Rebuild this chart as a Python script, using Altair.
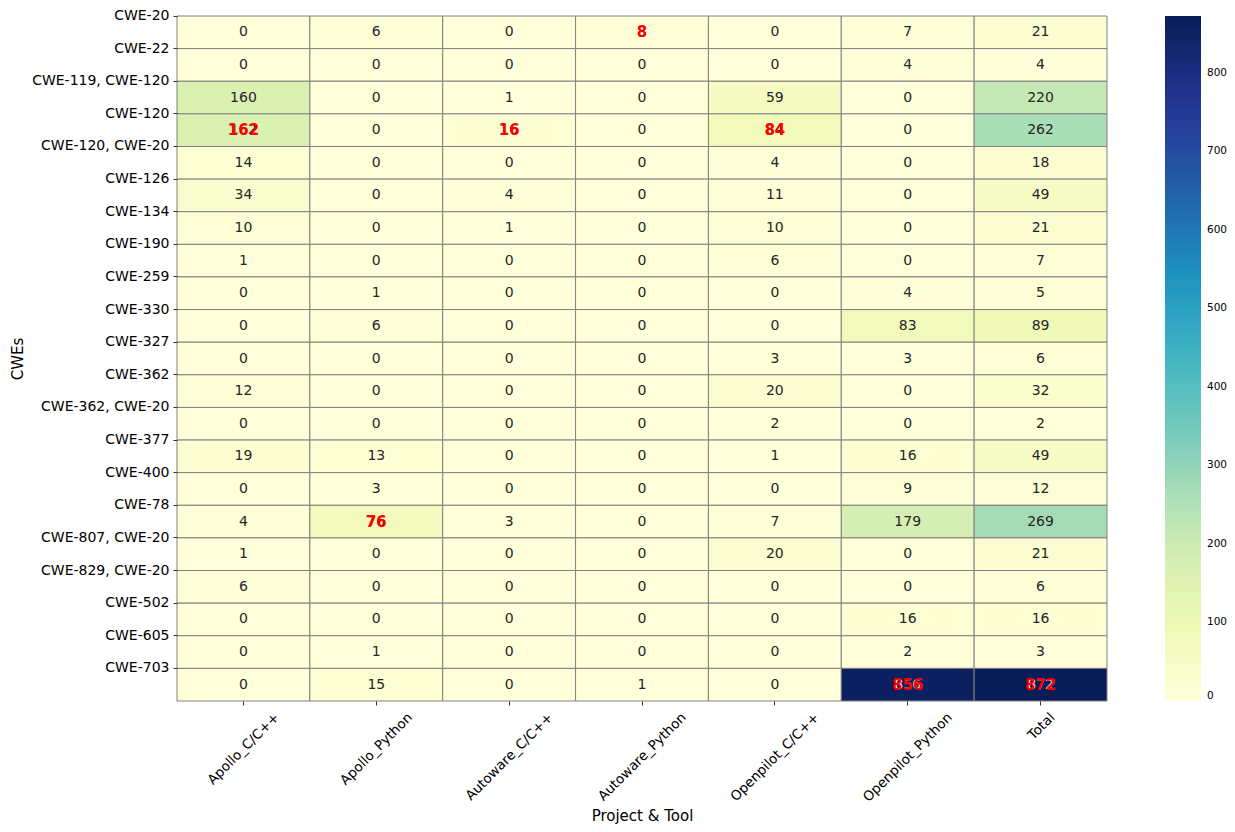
import altair as alt
import pandas as pd

cwes = ["CWE-20", "CWE-22", "CWE-119, CWE-120", "CWE-120", "CWE-120, CWE-20",
        "CWE-126", "CWE-134", "CWE-190", "CWE-259", "CWE-330", "CWE-327",
        "CWE-362", "CWE-362, CWE-20", "CWE-377", "CWE-400", "CWE-78",
        "CWE-807, CWE-20", "CWE-829, CWE-20", "CWE-502", "CWE-605", "CWE-703"]
tools = ["Apollo_C/C++", "Apollo_Python", "Autoware_C/C++", "Autoware_Python",
         "Openpilot_C/C++", "Openpilot_Python", "Total"]

apollo_c = [0, 0, 160, 162, 14, 34, 10, 1, 0, 0, 0, 12, 0, 19, 0, 4, 1, 6, 0, 0, 0]
apollo_py = [6, 0, 0, 0, 0, 0, 0, 0, 1, 6, 0, 0, 0, 13, 3, 76, 0, 0, 0, 1, 15]
autoware_c = [0, 0, 1, 16, 0, 4, 1, 0, 0, 0, 0, 0, 0, 0, 0, 3, 0, 0, 0, 0, 0]
autoware_py = [8, 0, 0, 0, 0, 0, 0, 0, 0, 0, 0, 0, 0, 0, 0, 0, 0, 0, 0, 0, 1]
openpilot_c = [0, 0, 59, 84, 4, 11, 10, 6, 0, 0, 3, 20, 2, 1, 0, 7, 20, 0, 0, 0, 0]
openpilot_py = [7, 4, 0, 0, 0, 0, 0, 0, 4, 83, 3, 0, 0, 16, 9, 179, 0, 0, 16, 2, 856]
total = [21, 4, 220, 262, 18, 49, 21, 7, 5, 89, 6, 32, 2, 49, 12, 269, 21, 6, 16, 3, 872]

columns = [apollo_c, apollo_py, autoware_c, autoware_py, openpilot_c, openpilot_py, total]

# YlGnBu (ColorBrewer 9-class) colour stops
ylgnbu = ["#ffffd9", "#edf8b1", "#c7e9b4", "#7fcdbb", "#41b6c4",
          "#1d91c0", "#225ea8", "#253494", "#081d58"]
vmax = 872
stops = [vmax * i / (len(ylgnbu) - 1) for i in range(len(ylgnbu))]

rows = []
for t, col in zip(tools, columns):
    m = max(col)
    for c, v in zip(cwes, col):
        rows.append({"cwe": c, "tool": t, "value": v, "hl": v == m})
df = pd.DataFrame(rows)

FONT = "DejaVu Sans"
XFS = 13.5

# approximate DejaVu Sans advance widths (em) to centre rotated labels on ticks
cw = {"A": .684, "p": .635, "o": .612, "l": .278, "_": .5, "C": .698, "/": .337,
      "+": .838, "P": .603, "y": .592, "t": .392, "h": .634, "n": .634, "u": .634,
      "w": .818, "a": .613, "r": .411, "e": .615, "O": .787, "i": .278, "T": .611}


def shift(label):
    w = sum(cw.get(ch, .6) for ch in label) * XFS
    return round(0.7071 * (w - XFS) / 2, 1)


x_offset = {
    "condition": [{"test": f"datum.value === '{t}'", "value": shift(t)} for t in tools],
    "value": 0,
}

base = alt.Chart(df).encode(
    x=alt.X("tool:N", sort=tools, title="Project & Tool",
            scale=alt.Scale(paddingInner=0, paddingOuter=0),
            axis=alt.Axis(labelAngle=-45, labelAlign="right", labelBaseline="top",
                          labelOffset=x_offset,
                          labelFontSize=XFS, titleFontSize=15, tickSize=4,
                          labelPadding=5, titlePadding=5, domain=False,
                          labelFont=FONT, titleFont=FONT, titleFontWeight="normal",
                          labelColor="black", titleColor="black", tickColor="#333")),
    y=alt.Y("cwe:N", sort=cwes, title="CWEs",
            scale=alt.Scale(paddingInner=0, paddingOuter=0),
            axis=alt.Axis(bandPosition=0, labelFontSize=14, titleFontSize=15,
                          tickSize=4, labelPadding=4, domain=False, titlePadding=6,
                          labelBaseline="middle", labelOffset=-16.3,
                          labelFont=FONT, titleFont=FONT, titleFontWeight="normal",
                          labelColor="black", titleColor="black", tickColor="#333")),
)

rect = base.mark_rect(stroke="#808080", strokeWidth=1).encode(
    color=alt.Color("value:Q",
                    scale=alt.Scale(domain=stops, range=ylgnbu, interpolate="rgb"),
                    legend=alt.Legend(orient="none", legendX=988, legendY=0,
                                      direction="vertical",
                                      gradientLength=685, gradientThickness=36,
                                      title=None, values=[0, 100, 200, 300, 400, 500, 600, 700, 800],
                                      labelFontSize=10.5, labelFont=FONT,
                                      labelColor="black", labelOffset=6,
                                      gradientStrokeWidth=0))
)

text = base.mark_text(fontSize=14, font=FONT).encode(
    text="value:Q",
    color=alt.condition("datum.value > 500", alt.value("white"), alt.value("#262626")),
)

red = base.transform_filter("datum.hl").mark_text(
    fontSize=15, font=FONT, fontWeight="bold", color="red"
).encode(text="value:Q")

chart = (rect + text + red).properties(
    width=930, height=685,
    autosize=alt.AutoSizeParams(type="none"),
    padding={"left": 169, "top": 8, "right": 120, "bottom": 123},
).configure_view(stroke=None)

chart.save("out.html", embed_options={"renderer": "svg", "actions": False})
